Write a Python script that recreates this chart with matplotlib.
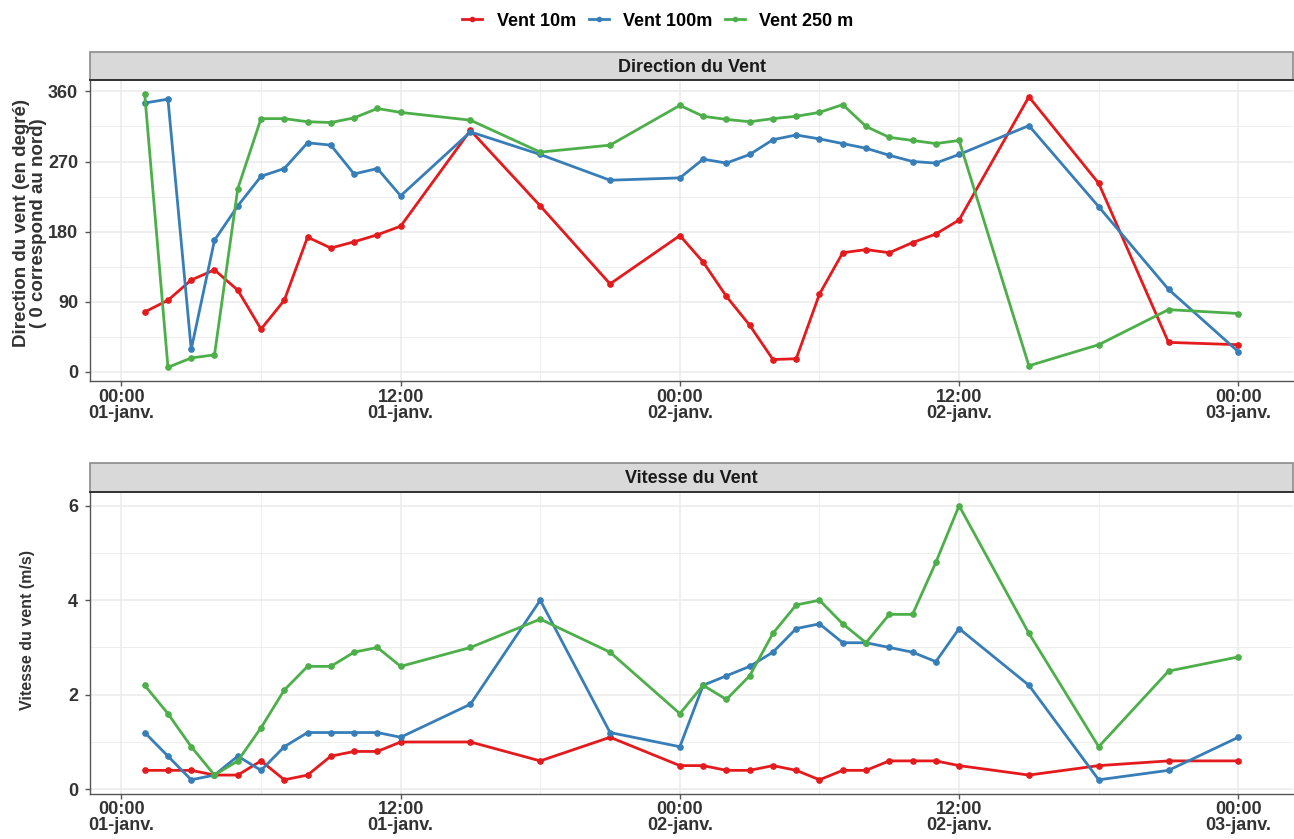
import matplotlib
matplotlib.use("Agg")
import matplotlib.pyplot as plt
import matplotlib.dates as mdates
from matplotlib.lines import Line2D
from matplotlib.patches import Rectangle
from matplotlib.ticker import FuncFormatter, MultipleLocator
import pandas as pd

plt.rcParams["font.family"] = ["Liberation Sans", "DejaVu Sans"]

# Observation times (hourly in the morning, every 3 h otherwise)
times = pd.to_datetime([
    "2023-01-01 01:00", "2023-01-01 02:00", "2023-01-01 03:00", "2023-01-01 04:00",
    "2023-01-01 05:00", "2023-01-01 06:00", "2023-01-01 07:00", "2023-01-01 08:00",
    "2023-01-01 09:00", "2023-01-01 10:00", "2023-01-01 11:00", "2023-01-01 12:00",
    "2023-01-01 15:00", "2023-01-01 18:00", "2023-01-01 21:00", "2023-01-02 00:00",
    "2023-01-02 01:00", "2023-01-02 02:00", "2023-01-02 03:00", "2023-01-02 04:00",
    "2023-01-02 05:00", "2023-01-02 06:00", "2023-01-02 07:00", "2023-01-02 08:00",
    "2023-01-02 09:00", "2023-01-02 10:00", "2023-01-02 11:00", "2023-01-02 12:00",
    "2023-01-02 15:00", "2023-01-02 18:00", "2023-01-02 21:00", "2023-01-03 00:00",
])

# Wind direction (degrees, 0 = north)
dir_10m = [77, 92, 118, 131, 105, 55, 92, 173, 159, 167, 176, 187,
           310, 213, 113, 175, 141, 97, 60, 16, 17, 100, 153, 157,
           153, 166, 177, 195, 353, 242, 38, 35]
dir_100m = [345, 350, 29, 169, 213, 251, 261, 294, 291, 254, 261, 226,
            308, 279, 246, 249, 273, 268, 279, 298, 304, 299, 293, 287,
            278, 270, 268, 279, 316, 212, 106, 26]
dir_250m = [357, 6, 18, 22, 235, 325, 325, 321, 320, 326, 338, 333,
            323, 282, 291, 342, 328, 324, 321, 325, 328, 333, 343, 315,
            301, 297, 293, 297, 8, 35, 80, 75]

# Wind speed (m/s)
spd_10m = [0.4, 0.4, 0.4, 0.3, 0.3, 0.6, 0.2, 0.3, 0.7, 0.8, 0.8, 1.0,
           1.0, 0.6, 1.1, 0.5, 0.5, 0.4, 0.4, 0.5, 0.4, 0.2, 0.4, 0.4,
           0.6, 0.6, 0.6, 0.5, 0.3, 0.5, 0.6, 0.6]
spd_100m = [1.2, 0.7, 0.2, 0.3, 0.7, 0.4, 0.9, 1.2, 1.2, 1.2, 1.2, 1.1,
            1.8, 4.0, 1.2, 0.9, 2.2, 2.4, 2.6, 2.9, 3.4, 3.5, 3.1, 3.1,
            3.0, 2.9, 2.7, 3.4, 2.2, 0.2, 0.4, 1.1]
spd_250m = [2.2, 1.6, 0.9, 0.3, 0.6, 1.3, 2.1, 2.6, 2.6, 2.9, 3.0, 2.6,
            3.0, 3.6, 2.9, 1.6, 2.2, 1.9, 2.4, 3.3, 3.9, 4.0, 3.5, 3.1,
            3.7, 3.7, 4.8, 6.0, 3.3, 0.9, 2.5, 2.8]

series_names = ["Vent 10m", "Vent 100m", "Vent 250 m"]
colors = ["#E41A1C", "#377EB8", "#4DAF4A"]

W, H = 1294, 839
fig = plt.figure(figsize=(W / 100, H / 100), dpi=100)

text_col = "#333333"
grid_col = "#EBEBEB"
axis_col = "#555555"
fsize = 13

x0 = pd.Timestamp("2023-01-01 00:00")
x_lo = x0 - pd.Timedelta(hours=1.35)
x_hi = x0 + pd.Timedelta(hours=50.35)

months_fr = ["janv.", "févr.", "mars", "avr.", "mai", "juin",
             "juil.", "août", "sept.", "oct.", "nov.", "déc."]


def fmt_date(val, pos=None):
    d = mdates.num2date(val)
    return f"{d:%H:%M}\n{d.day:02d}-{months_fr[d.month - 1]}"


def panel(rect_px, strip_px, title, ylabel, label_pos, label_size,
          ylim, major, minor, data):
    left, top, right, bottom = rect_px
    ax = fig.add_axes([left / W, 1 - bottom / H, (right - left) / W, (bottom - top) / H])
    for vals, col in zip(data, colors):
        ax.plot(times, vals, color=col, lw=2.0, marker="o", ms=3.8, zorder=3)

    ax.set_xlim(x_lo, x_hi)
    ax.set_ylim(*ylim)
    ax.xaxis.set_major_locator(mdates.HourLocator(byhour=[0, 12]))
    ax.xaxis.set_minor_locator(mdates.HourLocator(byhour=[6, 18]))
    ax.xaxis.set_major_formatter(FuncFormatter(fmt_date))
    ax.yaxis.set_major_locator(MultipleLocator(major))
    ax.yaxis.set_minor_locator(MultipleLocator(minor))

    ax.grid(True, which="major", color=grid_col, lw=1.1, zorder=0)
    ax.grid(True, which="minor", color=grid_col, lw=0.6, zorder=0)
    ax.set_axisbelow(True)

    for s in ["top", "right"]:
        ax.spines[s].set_visible(False)
    for s in ["left", "bottom"]:
        ax.spines[s].set_color(axis_col)
        ax.spines[s].set_linewidth(1.0)
    ax.tick_params(which="major", length=3.5, width=1.0, color=axis_col,
                   labelsize=fsize, labelcolor=text_col)
    ax.tick_params(axis="x", which="major", pad=2)
    ax.tick_params(axis="y", which="major", pad=5)
    ax.tick_params(which="minor", length=0)
    for lab in ax.get_xticklabels() + ax.get_yticklabels():
        lab.set_fontweight("bold")
    for lab in ax.get_xticklabels():
        lab.set_linespacing(0.95)

    # y-axis title
    fig.text(label_pos[0] / W, 1 - label_pos[1] / H, ylabel, rotation=90,
             ha="center", va="center", fontsize=label_size, fontweight="bold",
             color=text_col, linespacing=0.95, multialignment="center")

    # facet strip above the panel
    s_top, s_bottom = strip_px
    strip = fig.add_axes([left / W, 1 - s_bottom / H, (right - left) / W,
                          (s_bottom - s_top) / H])
    strip.set_xlim(0, 1)
    strip.set_ylim(0, 1)
    strip.axis("off")
    strip.add_patch(Rectangle((0, 0), 1, 1, facecolor="#D9D9D9",
                              edgecolor="#8C8C8C", lw=1.2, clip_on=False))
    strip.plot([0, 1], [0, 0], color="#333333", lw=1.4, clip_on=False)
    strip.text(0.5, 0.46, title, ha="center", va="center", fontsize=fsize,
               fontweight="bold", color="#1A1A1A")
    return ax


ax1 = panel((90, 80, 1293, 381), (52, 80), "Direction du Vent",
            "Direction du vent (en degré)\n( 0 correspond au nord)", (30, 223), 13.5,
            (-11.55, 374.55), 90, 45, [dir_10m, dir_100m, dir_250m])
ax2 = panel((90, 492, 1293, 793.5), (463, 492), "Vitesse du Vent",
            "Vitesse du vent (m/s)", (28, 630), 11.5,
            (-0.09, 6.29), 2, 1, [spd_10m, spd_100m, spd_250m])

handles = [Line2D([], [], color=c, lw=2.0, marker="o", ms=3.0) for c in colors]
leg = fig.legend(handles, series_names, loc="center", bbox_to_anchor=(658 / W, 1 - 21 / H),
                 ncol=3, frameon=False, fontsize=fsize, handlelength=1.1,
                 handletextpad=0.8, columnspacing=0.7)
for t in leg.get_texts():
    t.set_fontweight("bold")

fig.savefig("out.png", dpi=100)
